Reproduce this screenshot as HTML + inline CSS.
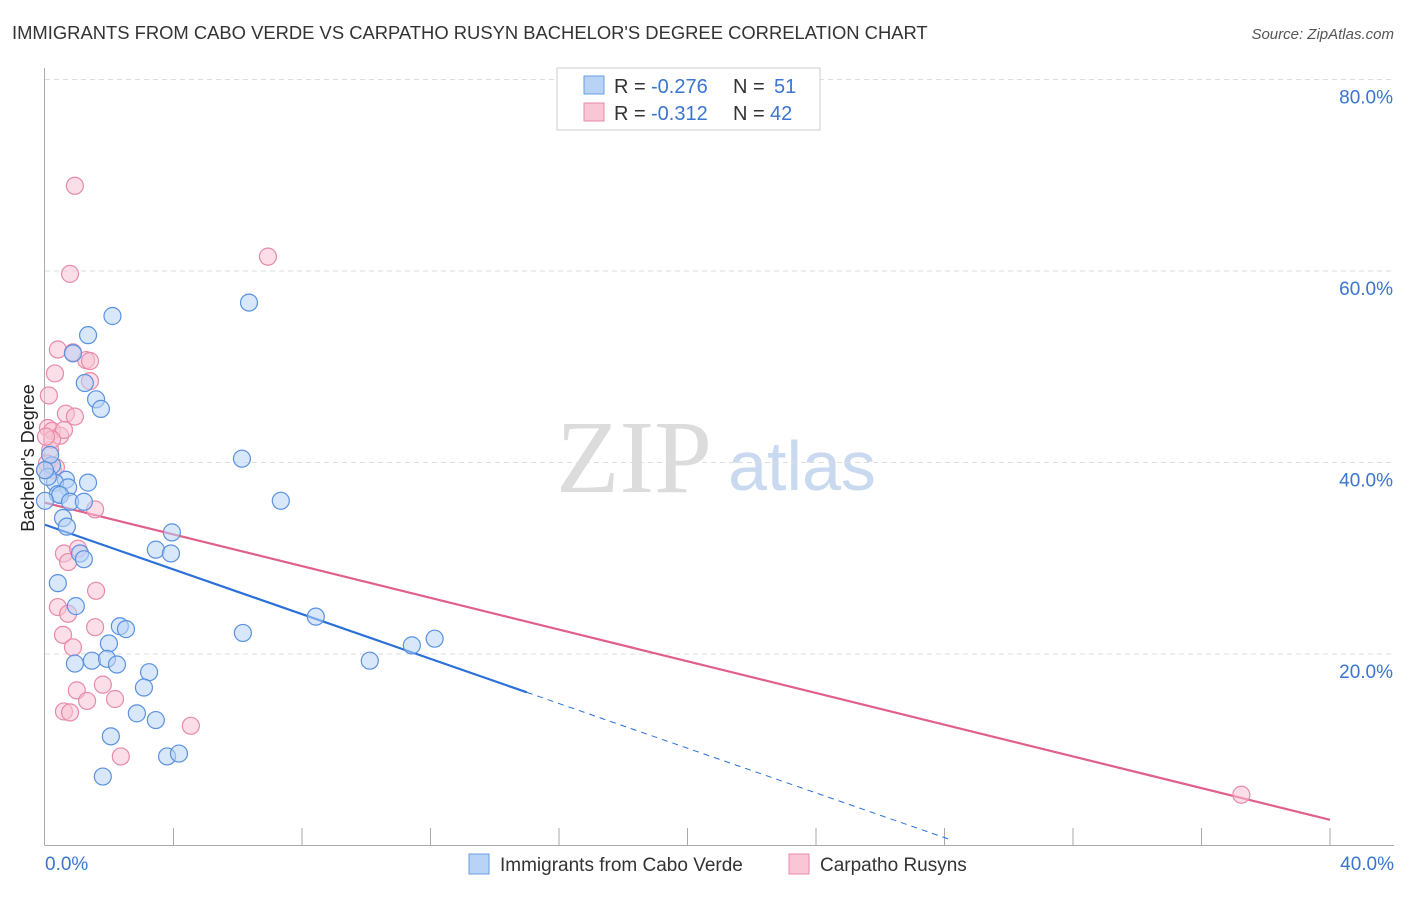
<!DOCTYPE html>
<html><head><meta charset="utf-8"><style>
body{margin:0;background:#fff;font-family:"Liberation Sans",sans-serif}
svg text{font-family:"Liberation Sans",sans-serif}
</style></head><body>
<svg id="chart" width="1406" height="892">
<text x="12" y="39" font-size="18.4" fill="#333">IMMIGRANTS FROM CABO VERDE VS CARPATHO RUSYN BACHELOR'S DEGREE CORRELATION CHART</text>
<text x="1394" y="39" font-size="15" fill="#555" font-style="italic" text-anchor="end">Source: ZipAtlas.com</text>
<text x="34" y="458" font-size="18" fill="#222" text-anchor="middle" transform="rotate(-90 34 458)">Bachelor's Degree</text>
<g><text x="634" y="492" font-size="104" fill="#dcdcdc" text-anchor="middle" style="font-family:'Liberation Serif',serif">ZIP</text><text x="802" y="490" font-size="70" fill="#c9d9ef" text-anchor="middle">atlas</text></g>
<g id="grid"></g><g id="axes"></g><g id="lines"></g><g id="pts"></g>
<g>
<rect x="557" y="68" width="263" height="62" fill="#fff" stroke="#ccc"/>
<rect x="584" y="76" width="20" height="18" fill="#b8d3f5" stroke="#6a9ee0"/>
<text x="614" y="93" font-size="20" fill="#333">R =</text><text x="651" y="93" font-size="20" fill="#3a75d0">-0.276</text><text x="733" y="93" font-size="20" fill="#333">N =</text><text x="774" y="93" font-size="20" fill="#3a75d0">51</text>
<rect x="584" y="103" width="20" height="18" fill="#f8c6d5" stroke="#e88aa8"/>
<text x="614" y="120" font-size="20" fill="#333">R =</text><text x="651" y="120" font-size="20" fill="#3a75d0">-0.312</text><text x="733" y="120" font-size="20" fill="#333">N =</text><text x="770" y="120" font-size="20" fill="#3a75d0">42</text>
</g>
<g>
<rect x="469" y="854" width="20" height="20" fill="#b8d3f5" stroke="#6a9ee0"/>
<text x="500" y="871" font-size="19" fill="#333">Immigrants from Cabo Verde</text>
<rect x="789" y="854" width="20" height="20" fill="#f8c6d5" stroke="#e88aa8"/>
<text x="820" y="871" font-size="19" fill="#333">Carpatho Rusyns</text>
</g>
</svg>
<script>
const yTicks=[20,40,60,80];
const xTickLabels=["0.0%","40.0%"];
const blueX=[2.1,6.35,1.34,0.87,1.24,1.59,1.74,6.13,0.22,0.65,0.31,1.34,0.72,0.40,0.47,0.78,1.21,7.34,0.56,0.68,3.95,3.45,3.92,1.09,1.21,0.40,0.96,8.43,2.33,2.52,6.16,12.13,11.42,1.99,0.93,1.46,1.93,2.24,10.11,3.24,3.08,2.86,3.45,2.05,3.80,4.17,1.80,0.09,0.0,0.16,0.0];
const blueY=[55.3,56.7,53.3,51.4,48.3,46.6,45.6,40.4,39.7,38.2,37.9,37.9,37.4,36.7,36.6,35.9,35.9,36.0,34.2,33.3,32.7,30.9,30.5,30.5,29.9,27.4,25.0,23.9,22.9,22.6,22.2,21.6,20.9,21.1,19.0,19.3,19.5,18.9,19.3,18.1,16.5,13.8,13.1,11.4,9.3,9.6,7.2,38.5,36.0,40.8,39.2];
const pinkX=[0.93,6.94,0.78,0.40,0.31,1.28,0.87,1.40,1.40,0.65,0.93,0.09,0.22,0.47,0.59,0.16,0.25,0.06,0.0,1.56,0.59,1.03,0.72,1.59,0.40,0.72,1.56,0.56,0.87,0.99,1.80,1.31,2.18,0.59,0.78,4.54,2.36,37.24,0.22,0.03,0.34,0.12];
const pinkY=[68.9,61.5,59.7,51.8,49.3,50.7,51.5,50.6,48.5,45.1,44.8,43.6,43.3,42.8,43.4,41.3,39.2,39.9,39.2,35.1,30.5,31.0,29.6,26.6,24.9,24.2,22.8,22.0,20.7,16.2,16.8,15.1,15.3,14.0,13.9,12.5,9.3,5.3,42.4,42.7,39.5,47.0];
const blueFit=[33.5,-1.167], pinkFit=[35.8,-0.828];
const X0=45,X1=1330,Y0=845.5,Y80=79.5;
const sx=v=>X0+(X1-X0)*v/40, sy=v=>Y0-(Y0-Y80)*v/80;
const NS="http://www.w3.org/2000/svg";
function mk(t,a,p){const e=document.createElementNS(NS,t);for(const k in a)e.setAttribute(k,a[k]);p.appendChild(e);return e;}
const grid=document.getElementById('grid'),axes=document.getElementById('axes'),lines=document.getElementById('lines'),pts=document.getElementById('pts');
yTicks.forEach(v=>{const l=mk('line',{x1:45,x2:1394,y1:sy(v),y2:sy(v),stroke:'#ddd','stroke-dasharray':'5,4'},grid);


const t=mk('text',{x:1393,y:sy(v)+24,'font-size':19,fill:'#3a75d0','text-anchor':'end'},axes);t.textContent=v.toFixed(1)+'%';

});
const ax=mk('line',{x1:45,x2:1394,y1:Y0,y2:Y0,stroke:'#aaa'},axes);


const ay=mk('line',{x1:44.5,x2:44.5,y1:68,y2:Y0,stroke:'#aaa'},axes);


for(let i=1;i<=10;i++){const tk=mk('line',{x1:sx(i*4),x2:sx(i*4),y1:828,y2:Y0,stroke:'#aaa'},axes);

}
[[0,'start',45],[1,'end',1394]].forEach(([i,a,x])=>{const t=mk('text',{x:x,y:870,'font-size':19,fill:'#3a75d0','text-anchor':a},axes);t.textContent=xTickLabels[i];

});
function pt(x,y,f,s,n){const c=mk('circle',{cx:sx(x),cy:sy(y),r:8.5,fill:f,'fill-opacity':0.55,stroke:s,'stroke-width':1.2},pts);

}
pinkX.forEach((x,i)=>pt(x,pinkY[i],'#f8c3d3','#e88aa8','pink-point'));
blueX.forEach((x,i)=>pt(x,blueY[i],'#b8d3f5','#5a92e0','blue-point'));
const f=(fit,x)=>fit[0]+fit[1]*x;
const pl=mk('line',{x1:sx(0),y1:sy(f(pinkFit,0)),x2:sx(40),y2:sy(f(pinkFit,40)),stroke:'#e0608a','stroke-width':2.2},lines);


const bl=mk('line',{x1:sx(0),y1:sy(f(blueFit,0)),x2:sx(15),y2:sy(f(blueFit,15)),stroke:'#2a70d8','stroke-width':2.2},lines);


const bd=mk('line',{x1:sx(15),y1:sy(f(blueFit,15)),x2:sx(28.2),y2:sy(f(blueFit,28.2)),stroke:'#2a70d8','stroke-width':1,'stroke-dasharray':'6,5'},lines);


</script>
</body></html>
